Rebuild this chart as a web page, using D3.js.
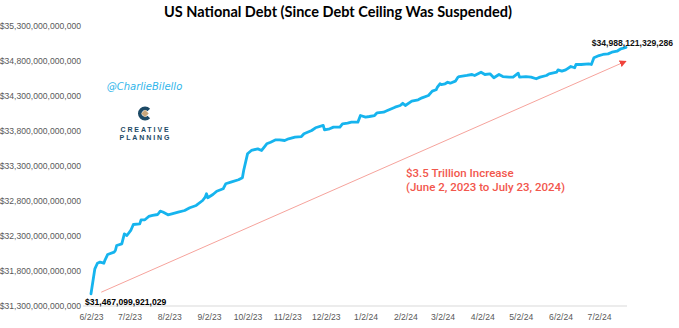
<!DOCTYPE html>
<html>
<head>
<meta charset="utf-8">
<script src="https://cdn.jsdelivr.net/npm/d3@7"></script>
<style>
  html, body { margin: 0; padding: 0; background: #ffffff; }
  svg { display: block; }
</style>
</head>
<body>
<svg id="chart" width="679" height="328"></svg>
<script>
// ---- Data (debt values in billions of US dollars) ----
const debtDates = [
  "2023-06-02","2023-06-05","2023-06-07","2023-06-09","2023-06-12","2023-06-13","2023-06-15","2023-06-20",
  "2023-06-21","2023-06-22","2023-06-26","2023-06-27","2023-06-28","2023-06-30","2023-07-03","2023-07-05",
  "2023-07-10","2023-07-11","2023-07-14","2023-07-17","2023-07-20","2023-07-24","2023-07-26","2023-07-28",
  "2023-08-01","2023-08-04","2023-08-09","2023-08-14","2023-08-18","2023-08-23","2023-08-28","2023-08-30",
  "2023-08-31","2023-09-01","2023-09-05","2023-09-08","2023-09-13","2023-09-15","2023-09-19","2023-09-25",
  "2023-09-28","2023-09-29","2023-10-02","2023-10-05","2023-10-10","2023-10-13","2023-10-17","2023-10-20",
  "2023-10-24","2023-10-27","2023-10-31","2023-11-03","2023-11-08","2023-11-13","2023-11-15","2023-11-21",
  "2023-11-24","2023-11-30","2023-12-01","2023-12-05","2023-12-08","2023-12-13","2023-12-15","2023-12-19",
  "2023-12-22","2023-12-27","2023-12-29","2024-01-02","2024-01-05","2024-01-09","2024-01-11","2024-01-16",
  "2024-01-19","2024-01-25","2024-01-29","2024-01-31","2024-02-02","2024-02-07","2024-02-12","2024-02-15",
  "2024-02-20","2024-02-23","2024-02-26","2024-02-27","2024-02-29","2024-03-01","2024-03-04","2024-03-06",
  "2024-03-08","2024-03-12","2024-03-14","2024-03-15","2024-03-21","2024-03-25","2024-03-27","2024-04-01",
  "2024-04-04","2024-04-08","2024-04-11","2024-04-15","2024-04-18","2024-04-23","2024-04-26","2024-04-30",
  "2024-05-01","2024-05-06","2024-05-10","2024-05-14","2024-05-17","2024-05-22","2024-05-24","2024-05-30",
  "2024-05-31","2024-06-03","2024-06-06","2024-06-10","2024-06-13","2024-06-14","2024-06-18","2024-06-24",
  "2024-06-26","2024-06-28","2024-07-02","2024-07-05","2024-07-09","2024-07-12","2024-07-16","2024-07-19",
  "2024-07-23"
];
const debtValues = [
  31467.1,31824,31904,31919,31904,31953,32029,32062,
  32086,32157,32181,32253,32324,32300,32372,32457,
  32467,32524,32524,32572,32586,32600,32647,32636,
  32596,32610,32633,32657,32696,32729,32800,32847,
  32896,32839,32886,32933,32967,33039,33062,33096,
  33124,33229,33467,33515,33538,33515,33610,33633,
  33667,33667,33657,33681,33705,33714,33753,33800,
  33839,33872,33810,33824,33848,33848,33896,33905,
  33919,33919,34014,33991,34000,34014,34053,34062,
  34086,34133,34157,34190,34157,34219,34239,34267,
  34300,34362,34382,34419,34467,34457,34467,34490,
  34476,34505,34562,34571,34586,34600,34586,34633,
  34600,34610,34553,34600,34571,34562,34562,34619,
  34562,34571,34562,34539,34562,34586,34610,34633,
  34667,34648,34667,34714,34696,34743,34743,34752,
  34743,34839,34871,34886,34895,34919,34933,34967,
  34988.121
];
const startLabel = "$31,467,099,921,029";
const endLabel = "$34,988,121,329,286";

const yTickValues = [31300, 31800, 32300, 32800, 33300, 33800, 34300, 34800, 35300]; // billions
const xTickDates = ["2023-06-02","2023-07-02","2023-08-02","2023-09-02","2023-10-02","2023-11-02","2023-12-02",
                    "2024-01-02","2024-02-02","2024-03-02","2024-04-02","2024-05-02","2024-06-02","2024-07-02"];
const xDomain = ["2023-06-02", "2024-07-23"];
const yDomain = [31300, 35300];

const titleText = "US National Debt (Since Debt Ceiling Was Suspended)";
const annotationLines = ["$3.5 Trillion Increase", "(June 2, 2023 to July 23, 2024)"];
const arrowFrom = { date: "2023-06-10", value: 31490 };
const arrowTo = { date: "2024-07-23", value: 34790 };
const watermark = "@CharlieBilello";
const logoLines = ["CREATIVE", "PLANNING"];

// ---- Drawing ----
const parse = d3.utcParse("%Y-%m-%d");
const data = debtDates.map((d, i) => ({ date: parse(d), value: debtValues[i] }));

const svg = d3.select("#chart");
const x = d3.scaleUtc().domain(xDomain.map(parse)).range([91, 626]);
const y = d3.scaleLinear().domain(yDomain).range([305.5, 25.5]);

const axisFont = "'Liberation Sans', Arial, sans-serif";

// Title
svg.append("text")
  .attr("x", 338).attr("y", 17)
  .attr("text-anchor", "middle")
  .attr("font-family", "Lato, 'Liberation Sans', sans-serif")
  .attr("font-weight", "bold")
  .attr("font-size", 14.5)
  .attr("fill", "#000")
  .text(titleText);

// Y axis (labels only)
const yAxis = d3.axisLeft(y)
  .tickValues(yTickValues)
  .tickSize(0)
  .tickPadding(0)
  .tickFormat(v => "$" + d3.format(",.0f")(v * 1e9));
const gy = svg.append("g").attr("transform", "translate(81,0)").call(yAxis);
gy.select(".domain").remove();
gy.selectAll("text")
  .attr("font-family", axisFont)
  .attr("font-size", 8.6)
  .attr("fill", "#595959");

// X axis
const xAxis = d3.axisBottom(x)
  .tickValues(xTickDates.map(parse))
  .tickSize(0)
  .tickPadding(8)
  .tickFormat(d3.utcFormat("%-m/%-d/%y"));
const gx = svg.append("g").attr("transform", "translate(0,306)").call(xAxis);
gx.select(".domain").remove();
gx.selectAll("text")
  .attr("font-family", axisFont)
  .attr("font-size", 8.6)
  .attr("fill", "#595959");
svg.append("line")
  .attr("x1", x(parse(xDomain[0])) - 8).attr("x2", x(parse(xDomain[1])) + 1)
  .attr("y1", 306).attr("y2", 306)
  .attr("stroke", "#d9d9d9").attr("stroke-width", 1);

// Arrow annotation
const defs = svg.append("defs");
defs.append("marker")
  .attr("id", "arrowhead")
  .attr("viewBox", "0 0 10 10")
  .attr("refX", 9).attr("refY", 5)
  .attr("markerWidth", 7).attr("markerHeight", 7)
  .attr("markerUnits", "userSpaceOnUse")
  .attr("orient", "auto")
  .append("path")
  .attr("d", "M0,0 L10,5 L0,10 Z")
  .attr("fill", "#f0443c");

svg.append("line")
  .attr("x1", x(parse(arrowFrom.date))).attr("y1", y(arrowFrom.value))
  .attr("x2", x(parse(arrowTo.date))).attr("y2", y(arrowTo.value))
  .attr("stroke", "#f6a39c")
  .attr("stroke-width", 1)
  .attr("marker-end", "url(#arrowhead)");

const ann = svg.append("text")
  .attr("font-family", "Roboto, 'Liberation Sans', sans-serif")
  .attr("font-weight", 500)
  .attr("font-size", 11.5)
  .attr("fill", "#f2574d");
annotationLines.forEach((t, i) => {
  ann.append("tspan").attr("x", 406).attr("y", 177 + i * 13.5).text(t);
});

// Debt line
const line = d3.line().x(d => x(d.date)).y(d => y(d.value));
svg.append("path")
  .datum(data)
  .attr("d", line)
  .attr("fill", "none")
  .attr("stroke", "#16b4ee")
  .attr("stroke-width", 2.8)
  .attr("stroke-linejoin", "round")
  .attr("stroke-linecap", "round");

// Start / end labels
const first = data[0], last = data[data.length - 1];
svg.append("text")
  .attr("x", x(first.date) - 6).attr("y", y(first.value) + 11.5)
  .attr("font-family", axisFont).attr("font-weight", "bold")
  .attr("font-size", 8.6).attr("fill", "#000")
  .text(startLabel);
svg.append("text")
  .attr("x", x(last.date) + 47).attr("y", y(last.value) - 1.5)
  .attr("text-anchor", "end")
  .attr("font-family", axisFont).attr("font-weight", "bold")
  .attr("font-size", 8.6).attr("fill", "#111")
  .text(endLabel);

// Watermark
svg.append("text")
  .attr("x", 144.5).attr("y", 89.5)
  .attr("text-anchor", "middle")
  .attr("font-family", "'DejaVu Sans', sans-serif")
  .attr("font-style", "italic")
  .attr("font-size", 10)
  .attr("fill", "#2fb5ea")
  .text(watermark);

// Logo
const logo = svg.append("g").attr("transform", "translate(145,113.5)");
logo.append("path")
  .attr("d", d3.arc().innerRadius(3.3).outerRadius(7)
    .startAngle(Math.PI / 2 + 0.75).endAngle(Math.PI / 2 + 2 * Math.PI - 0.75)())
  .attr("fill", "#1d4a66");
logo.append("rect")
  .attr("x", -2.6).attr("y", -2.6).attr("width", 5.2).attr("height", 5.2)
  .attr("transform", "rotate(45)")
  .attr("fill", "#c9a77c");
logoLines.forEach((t, i) => {
  svg.append("text")
    .attr("x", 145.5).attr("y", 132 + i * 8.3)
    .attr("text-anchor", "middle")
    .attr("font-family", axisFont)
    .attr("font-weight", "bold")
    .attr("font-size", 7)
    .attr("letter-spacing", 1.9)
    .attr("fill", "#1d4a66")
    .text(t);
});
</script>
</body>
</html>
